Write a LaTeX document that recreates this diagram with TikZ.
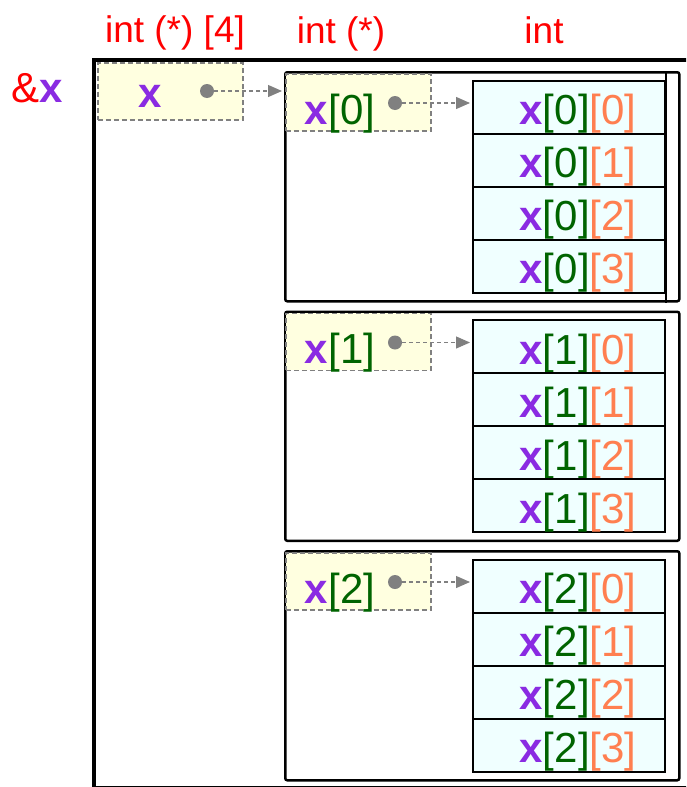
\documentclass[tikz,border=0pt]{standalone}
\usepackage{fontspec}
\setmainfont{Liberation Sans}
\usetikzlibrary{arrows.meta,positioning}

\definecolor{ptrfill}{HTML}{FFFFE0}
\definecolor{cellfill}{HTML}{F0FFFF}
\definecolor{idxgreen}{HTML}{006400}
\definecolor{idxorange}{HTML}{FF7F50}
\definecolor{varpurple}{HTML}{8A2BE2}
\definecolor{dotgray}{HTML}{808080}

\tikzset{
  ptrbox/.style={draw=dotgray, dash pattern=on 5pt off 3pt, fill=ptrfill, line width=1.6pt,
    minimum width=145pt, minimum height=57pt, inner sep=0, anchor=north west},
  cell/.style={draw, fill=cellfill, line width=2pt,
    minimum width=192pt, minimum height=53pt, inner sep=0, anchor=north west},
  rowbox/.style={draw, line width=2.5pt, rounded corners=2pt,
    minimum width=394pt, minimum height=229pt, inner sep=0, anchor=north west},
  ptrdot/.style={circle, fill=dotgray, minimum size=14pt, inner sep=0},
  ptrarrow/.style={dotgray, dash pattern=on 4pt off 3pt, line width=1.2pt, shorten >=2pt,
    -{Triangle[length=14pt,width=12pt]}},
  typelabel/.style={red, anchor=base, inner sep=0, font=\fontsize{37}{44}\selectfont},
  big/.style={anchor=base, inner sep=0, font=\fontsize{42}{50}\selectfont}
}

\begin{document}
\begin{tikzpicture}[x=1pt,y=-1pt]
  \useasboundingbox (0,0) rectangle (686,787);
  \clip (0,0) rectangle (686,787);

  % Type labels
  \node[typelabel] (tarr) at (175,42) {int (*) [4]};
  \node[typelabel] (tptr) at (341,43) {int (*)};
  \node[typelabel] (tint) at (544,43) {int};

  % Address of x
  \node[big] (addr) at (37,102) {\textcolor{red}{\&}\textcolor{varpurple}{\bfseries x}};

  % Outer frame
  \node[draw, line width=4pt, minimum width=598pt, minimum height=728pt,
    inner sep=0, anchor=north west] (xframe) at (92,58) {};

  % Pointer x
  \node[ptrbox] (xbox) at (97,62) {};
  \node[big, varpurple, font=\fontsize{42}{50}\selectfont\bfseries] (xname) at (150,107) {x};
  \node[ptrdot] (xdot) at (207,91) {};

  % Rows x[0], x[1], x[2]
  \foreach \i in {0,1,2} {
    \pgfmathsetmacro{\rowtop}{71+239.5*\i}
    \node[rowbox] (row\i) at (284,\rowtop) {};
    \node[ptrbox] (p\i) at (285,\rowtop+2) {};
    \node[big] (pname\i) at (340,\rowtop+53)
      {\textcolor{varpurple}{\bfseries x}\textcolor{idxgreen}{[\i]}};
    \node[ptrdot] (pdot\i) at (395,\rowtop+32) {};
    \foreach \j in {0,...,3} {
      \node[cell] (c\i-\j) at (472,\rowtop+8.5+53*\j) {};
      \node[big] (v\i-\j) at ([xshift=9pt,yshift=10pt]c\i-\j.south)
        {\textcolor{varpurple}{\bfseries x}\textcolor{idxgreen}{[\i]}\textcolor{idxorange}{[\j]}};
    }
    \draw[ptrarrow] (pdot\i) -- (pdot\i -| c\i-0.west);
  }

  % Extra edge in first row
  \draw[line width=2pt] (c0-0.north east |- row0.north) -- (c0-3.south east |- row0.south);

  % Arrow from x
  \draw[ptrarrow] (xdot) -- (xdot -| row0.west);
\end{tikzpicture}
\end{document}
